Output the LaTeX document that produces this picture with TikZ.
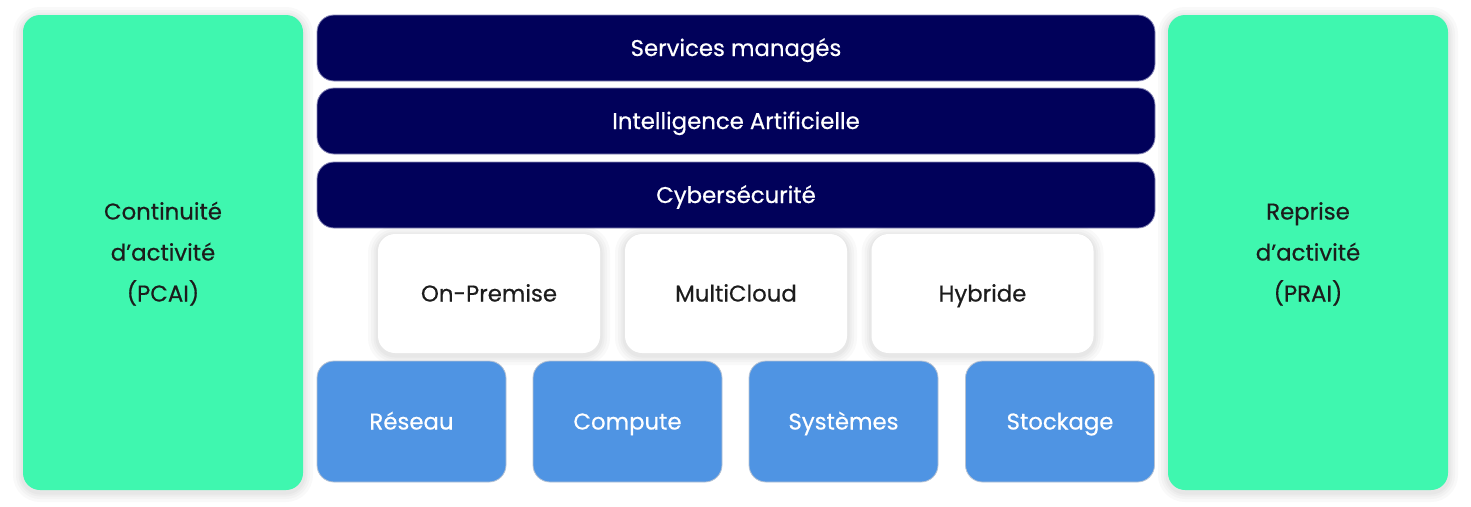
\documentclass[tikz,border=0pt]{standalone}
\usepackage{fontspec}
\setmainfont{Poppins}[FakeBold=0.5]
\definecolor{mint}{HTML}{3FF7AF}
\definecolor{navy}{HTML}{01015A}
\definecolor{bluebox}{HTML}{4F94E3}
\definecolor{txtdark}{HTML}{1C1C1C}
\definecolor{blueedge}{HTML}{B5C2D4}
\definecolor{navyedge}{HTML}{8A8AB8}
\tikzset{
  softshadow/.style={
    preaction={draw=black, draw opacity=0.025, line width=20pt, transform canvas={yshift=-2pt}},
    preaction={draw=black, draw opacity=0.025, line width=14pt, transform canvas={yshift=-2pt}},
    preaction={draw=black, draw opacity=0.025, line width=9pt, transform canvas={yshift=-2pt}},
    preaction={draw=black, draw opacity=0.025, line width=5pt, transform canvas={yshift=-2pt}}},
  base/.style={rounded corners=17pt, inner sep=0pt, align=center, text height=16pt, text depth=0pt,
    font=\fontsize{22.8}{41}\selectfont},
  sidebox/.style={base, softshadow, fill=mint, text=txtdark, text height=98pt, text depth=0pt, minimum width=280pt, minimum height=475pt},
  barbox/.style={base, fill=navy, draw=navyedge, line width=0.8pt, text=white, minimum width=838pt, minimum height=66pt},
  whitebox/.style={base, softshadow, fill=white, text=txtdark, minimum width=222pt, minimum height=119pt},
  bluenode/.style={base, fill=bluebox, draw=blueedge, line width=0.8pt, text=white, minimum width=189pt, minimum height=121pt},
}
\begin{document}
\begin{tikzpicture}[x=1pt,y=-1pt]
\useasboundingbox (0,0) rectangle (1471,506);
\fill[white] (0,0) rectangle (1471,506);
\node[sidebox] (pcai) at (163,252.5) {Continuité\\d’activité\\(PCAI)};
\node[sidebox] (prai) at (1308,252.5) {Reprise\\d’activité\\(PRAI)};
\node[barbox] (svc) at (736,48) {Services managés};
\node[barbox] (ia) at (736,121) {Intelligence Artificielle};
\node[barbox] (cyber) at (736,195) {Cybersécurité};
\node[whitebox] (onp) at (489,293.5) {On-Premise};
\node[whitebox] (multi) at (736,293.5) {MultiCloud};
\node[whitebox] (hyb) at (982.5,293.5) {Hybride};
\node[bluenode] (res) at (411.5,421.5) {Réseau};
\node[bluenode] (comp) at (627.5,421.5) {Compute};
\node[bluenode] (sys) at (843.5,421.5) {Systèmes};
\node[bluenode] (stock) at (1060,421.5) {Stockage};
\end{tikzpicture}
\end{document}
